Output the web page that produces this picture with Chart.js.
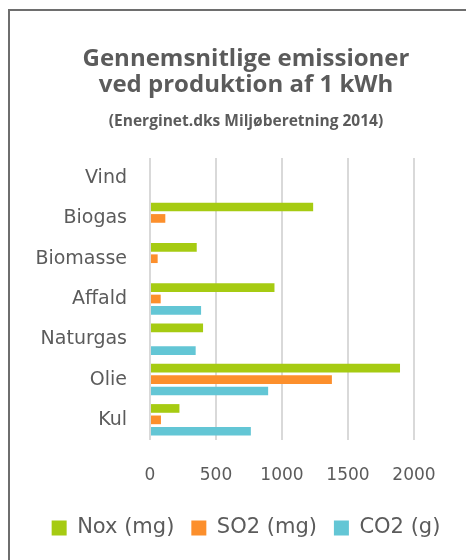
<!DOCTYPE html>
<html>
<head>
<meta charset="utf-8">
<script src="https://cdn.jsdelivr.net/npm/chart.js@4/dist/chart.umd.min.js"></script>
<style>
  html, body { margin: 0; padding: 0; background: #fff; }
  #wrap { position: relative; width: 466px; height: 560px; overflow: hidden; }
  #frame { position: absolute; left: 8px; top: 9px; width: 500px; height: 600px;
           border-top: 2px solid #6e6e6e; border-left: 2px solid #6e6e6e; }
  canvas { position: absolute; left: 0; top: 0; }
</style>
</head>
<body>
<div id="wrap">
  <div id="frame"></div>
  <canvas id="c" width="466" height="560"></canvas>
</div>
<script>
const categories = ["Vind", "Biogas", "Biomasse", "Affald", "Naturgas", "Olie", "Kul"];
const noxMg = [0, 1236, 354, 943, 402, 1894, 223];
const so2Mg = [0, 116, 58, 81, 0, 1378, 83];
const co2G  = [0, 0, 0, 387, 346, 895, 764];
const seriesNames = ["Nox (mg)", "SO2 (mg)", "CO2 (g)"];
const xTicks = [0, 500, 1000, 1500, 2000];

const textColor = "#5b5b5b";

new Chart(document.getElementById("c"), {
  type: "bar",
  data: {
    labels: categories,
    datasets: [
      { label: seriesNames[0], data: noxMg, backgroundColor: "#a6cb12", yAxisID: "y" },
      { label: seriesNames[1], data: so2Mg, backgroundColor: "#fc8f2c", yAxisID: "y" },
      { label: seriesNames[2], data: co2G, backgroundColor: "#63c6d5", yAxisID: "y" }
    ]
  },
  options: {
    indexAxis: "y",
    responsive: false,
    animation: false,
    devicePixelRatio: 1,
    categoryPercentage: 0.85,
    barPercentage: 0.76,
    layout: { padding: { left: 28, right: 2, top: 0, bottom: 11.5 } },
    plugins: {
      tooltip: { enabled: false },
      title: {
        display: true,
        text: ["Gennemsnitlige emissioner", "ved produktion af 1 kWh"],
        color: textColor,
        font: { family: "'Open Sans'", size: 24, weight: "bold", lineHeight: 26 / 24 },
        padding: { top: 46, bottom: 0 }
      },
      subtitle: {
        display: true,
        text: "(Energinet.dks Miljøberetning 2014)",
        color: textColor,
        font: { family: "'Open Sans'", size: 15.5, weight: "bold", lineHeight: 17 / 15.5 },
        padding: { top: 15.5, bottom: 27.5 }
      },
      legend: {
        position: "bottom",
        labels: {
          color: textColor,
          font: { family: "'DejaVu Sans'", size: 21 },
          boxWidth: 15,
          boxHeight: 15,
          padding: 17
        }
      }
    },
    scales: {
      x: {
        min: 0,
        max: 2000,
        afterBuildTicks: (scale) => { scale.ticks = xTicks.map(v => ({ value: v })); },
        afterFit: (scale) => { scale.height = 60.5; },
        grid: { color: "#d9d9d9", lineWidth: 2, drawTicks: false },
        border: { display: false },
        ticks: {
          color: textColor,
          font: { family: "'DejaVu Sans'", size: 17 },
          padding: 25,
          maxRotation: 0,
          callback: (v) => String(v)
        }
      },
      y: {
        afterFit: (scale) => {
          scale.width = 122;
          scale._computeLabelArea = () => undefined;
        },
        grid: { display: false, drawTicks: false },
        border: { display: false },
        ticks: {
          color: textColor,
          font: { family: "'DejaVu Sans'", size: 19 },
          padding: 23
        }
      },
      yRight: {
        type: "category",
        position: "right",
        afterFit: (scale) => { scale.width = 50; },
        grid: { display: false, drawTicks: false },
        border: { display: false },
        ticks: { display: false }
      }
    }
  }
});
</script>
</body>
</html>
